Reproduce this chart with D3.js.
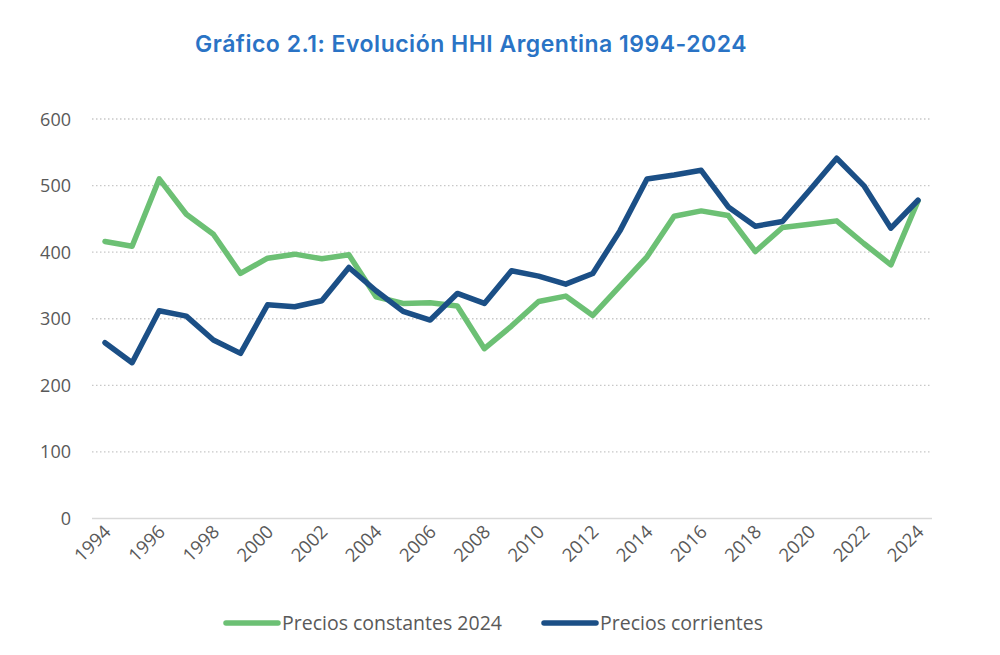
<!DOCTYPE html>
<html lang="es">
<head>
<meta charset="UTF-8" />
<title>HHI Argentina</title>
<script src="https://d3js.org/d3.v7.min.js"></script>
<style>
  body { margin: 0; background: #fff; }
  svg { display: block; }
</style>
</head>
<body>
<svg width="1000" height="655"></svg>
<script>
// Data
const years = d3.range(1994, 2025);
const constantes = [416, 409, 510, 457, 427, 368, 391, 397, 390, 396, 333,
  323, 324, 319, 255, 289, 326, 334, 305, 349, 393,
  454, 462, 455, 401, 437, 442, 447, 413, 381, 477];
const corrientes = [264, 234, 312, 304, 268, 248, 321, 318, 327, 377, 342,
  311, 298, 338, 323, 372, 364, 352, 368, 432, 510,
  516, 523, 468, 439, 446, 493, 541, 500, 436, 478];
const yTicks = [0, 100, 200, 300, 400, 500, 600];
const xTicks = d3.range(1994, 2025, 2);
const seriesNames = ["Precios constantes 2024", "Precios corrientes"];
const seriesColors = ["#6cc074", "#1b4f86"];

const svg = d3.select("svg");
const font = "Open Sans, Noto Sans, sans-serif";

// Scales
const x = d3.scaleLinear().domain([1994, 2024]).range([105, 918]);
const y = d3.scaleLinear().domain([0, 600]).range([518.5, 119]);

// Title
svg.append("text")
  .attr("x", 471).attr("y", 52)
  .attr("text-anchor", "middle")
  .attr("font-family", "Inter, Open Sans, sans-serif")
  .attr("font-weight", 600)
  .attr("font-size", 23)
  .attr("letter-spacing", 0.5)
  .attr("fill", "#2a73c5")
  .text("Gráfico 2.1: Evolución HHI Argentina 1994-2024");

// Grid
svg.append("g")
  .selectAll("line")
  .data(yTicks.filter(d => d > 0))
  .join("line")
  .attr("x1", 92).attr("x2", 932)
  .attr("y1", d => y(d)).attr("y2", d => y(d))
  .attr("stroke", "#c8c8c8")
  .attr("stroke-width", 1.3)
  .attr("stroke-dasharray", "1.5,2.5");

svg.append("line")
  .attr("x1", 92).attr("x2", 932)
  .attr("y1", y(0)).attr("y2", y(0))
  .attr("stroke", "#d9d9d9")
  .attr("stroke-width", 1.3);

// Y labels
svg.append("g")
  .selectAll("text")
  .data(yTicks)
  .join("text")
  .attr("x", 71)
  .attr("y", d => y(d) + 6.5)
  .attr("text-anchor", "end")
  .attr("font-family", font)
  .attr("font-size", 18)
  .attr("fill", "#595959")
  .text(d => d);

// X labels
svg.append("g")
  .selectAll("text")
  .data(xTicks)
  .join("text")
  .attr("transform", d => `translate(${x(d) + 7},${533}) rotate(-45)`)
  .attr("text-anchor", "end")
  .attr("font-family", font)
  .attr("font-size", 18.5)
  .attr("fill", "#595959")
  .text(d => d);

// Lines
const line = d3.line().x((d, i) => x(years[i])).y(d => y(d));
[constantes, corrientes].forEach((s, k) => {
  svg.append("path")
    .datum(s)
    .attr("d", line)
    .attr("fill", "none")
    .attr("stroke", seriesColors[k])
    .attr("stroke-width", 5.5)
    .attr("stroke-linejoin", "round")
    .attr("stroke-linecap", "round");
});

// Legend
const legendX = [226, 544];
seriesNames.forEach((name, k) => {
  const g = svg.append("g").attr("transform", `translate(${legendX[k]},623)`);
  g.append("line")
    .attr("x1", 0).attr("x2", 52)
    .attr("stroke", seriesColors[k])
    .attr("stroke-width", 5.5)
    .attr("stroke-linecap", "round");
  g.append("text")
    .attr("x", 56).attr("y", 6.5)
    .attr("font-family", font)
    .attr("font-size", 19.5)
    .attr("fill", "#595959")
    .text(name);
});
</script>
</body>
</html>
